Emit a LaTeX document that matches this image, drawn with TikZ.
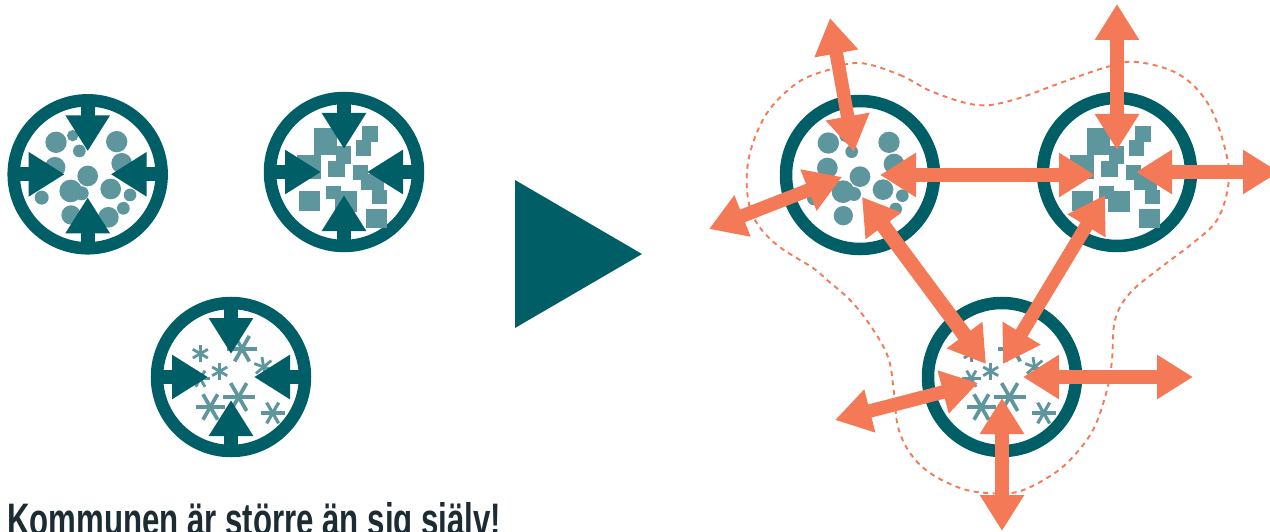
\documentclass[tikz,border=0pt]{standalone}
\usepackage{fontspec}
\setmainfont{Liberation Sans}
\usetikzlibrary{arrows.meta}
\definecolor{teal}{HTML}{005F66}
\definecolor{lightteal}{HTML}{5E969E}
\definecolor{coral}{HTML}{F47957}
\definecolor{inktext}{HTML}{1C2C32}
\tikzset{
  ring/.style={circle,draw=teal,line width=12.5pt,minimum size=148pt,inner sep=0pt,outer sep=0pt,fill=white},
  inarrow/.style={teal,line width=14pt,-{Triangle[length=36pt,width=42pt]}},
  outarrow/.style={coral,line width=13.5pt,{Triangle[length=36pt,width=42pt]}-{Triangle[length=36pt,width=42pt]}},
  boundary/.style={coral,line width=1.9pt,dash pattern=on 5pt off 4.5pt},
  blob/.style={fill=lightteal},
}
\newcommand{\circlegroup}[2]{%
 \begin{scope}[shift={(#1,#2)},scale=1/3]
  \foreach \cx/\cy/\cr in {-95/-96/32,-45/-116/17,-25/-70/19,87/-98/32,102/-33/31,-98/-21/31,0/5/31,-51/50/34,-18/57/21,-138/70/21,69/44/31,127/62/19,107/102/19,-50/122/29,62/129/31}
   {\fill[blob] (\cx,\cy) circle[radius=\cr];}
 \end{scope}}
\newcommand{\squaregroup}[2]{%
 \begin{scope}[shift={(#1,#2)},scale=1/3]
  \foreach \ax/\ay/\bx/\by in {-90/-133/-20/-50,-142/-52/-70/20,-25/-77/22/-25,-48/-33/2/15,53/-139/103/-90,35/-95/80/-47,28/-20/72/23,50/5/120/55,85/55/128/97,66/112/128/167,-135/57/-72/117,-53/42/-10/80,-28/57/40/120}
   {\fill[blob] (\ax,\ay) rectangle (\bx,\by);}
 \end{scope}}
\newcommand{\flake}[5]{%
 \foreach \a in {0,60,120}{\draw[lightteal,line width=#5pt] (#1,#2)+(\a+#4:#3)--+(\a+180+#4:#3);}}
\newcommand{\stargroup}[2]{%
 \begin{scope}[shift={(#1,#2)},scale=1/3]
  \flake{-92}{-70}{26}{90}{2.8}
  \flake{33}{-85}{44}{0}{3.7}
  \flake{-34}{-17}{26}{90}{2.8}
  \flake{98}{-30}{30}{20}{2.8}
  \flake{-92}{5}{28}{0}{2.8}
  \flake{-62}{90}{44}{0}{3.7}
  \flake{23}{60}{48}{0}{3.7}
  \flake{125}{108}{36}{0}{3.2}
 \end{scope}}
\begin{document}
\begin{tikzpicture}[x=1pt,y=-1pt]
\useasboundingbox (0,0) rectangle (1270,532);
\clip (0,0) rectangle (1270,532);
% left rings
\node[ring] (a1) at (87.7,174.3) {};
\node[ring] (a2) at (344,172) {};
\node[ring] (a3) at (231,377) {};
\circlegroup{87.7}{174.3}
\squaregroup{344}{172}
\stargroup{231}{377}
\foreach \n in {a1,a2,a3}{
  \coordinate (\n t) at ([yshift=23pt]\n.center);
  \coordinate (\n b) at ([yshift=-23pt]\n.center);
  \coordinate (\n l) at ([xshift=-23pt]\n.center);
  \coordinate (\n r) at ([xshift=23pt]\n.center);
  \draw[inarrow] (\n.north) -- (\n t);
  \draw[inarrow] (\n.south) -- (\n b);
  \draw[inarrow] (\n.west) -- (\n l);
  \draw[inarrow] (\n.east) -- (\n r);
}
% big triangle
\fill[teal] (515,180) -- (642,254) -- (515,328) -- cycle;
% dashed boundary
\draw[boundary] plot[smooth cycle,tension=0.6] coordinates {
 (860,63) (900,75) (933,92) (977,105) (1013,100) (1063,82) (1107,67) (1137,62) (1180,75) (1210,107) (1227,157) (1228,187) (1217,220) (1193,243) (1160,268) (1130,293) (1115,320) (1112,360) (1107,390) (1093,430) (1070,460) (1047,478) (1017,492) (987,493) (960,488) (930,473) (910,453) (898,427) (894,393) (888,357) (870,325) (850,300) (827,280) (813,268) (777,245) (755,220) (747,190) (750,153) (767,113) (797,83) (828,70)};
% right rings
\node[ring] (b1) at (860,175) {};
\node[ring] (b2) at (1117,172) {};
\node[ring] (b3) at (1002,377) {};
\circlegroup{860}{175}
\squaregroup{1117}{172}
\stargroup{1002}{377}
% free ends and tips
\coordinate (o1) at (830,18);  \coordinate (i1) at (854,152);
\coordinate (o2) at (709,229); \coordinate (i2) at (842,177);
\coordinate (i3) at (880,175); \coordinate (j3) at (1095,175);
\coordinate (i4) at (862,197); \coordinate (j4) at (986,364);
\coordinate (i5) at (1105,195);\coordinate (j5) at (1003,364);
\coordinate (o6) at (1117,4);  \coordinate (i6) at (1117,150);
\coordinate (i7) at (1136,172);\coordinate (o7) at (1279,172);
\coordinate (i8) at (1023,377);\coordinate (o8) at (1193,377);
\coordinate (i9) at (978,383); \coordinate (o9) at (835,420);
\coordinate (i10) at (1002,398);\coordinate (o10) at (1002,531);
\draw[outarrow] (o1)--(i1);
\draw[outarrow] (o2)--(i2);
\draw[outarrow] (i3)--(j3);
\draw[outarrow,line width=15pt] (i4)--(j4);
\draw[outarrow] (i5)--(j5);
\draw[outarrow] (o6)--(i6);
\draw[outarrow] (i7)--(o7);
\draw[outarrow] (i8)--(o8);
\draw[outarrow] (i9)--(o9);
\draw[outarrow] (i10)--(o10);
% caption
\node[anchor=base west,inner sep=0pt,text=inktext] (cap) at (7,535) {\resizebox{494pt}{33pt}{\bfseries Kommunen är större än sig själv!}};
\end{tikzpicture}
\end{document}
